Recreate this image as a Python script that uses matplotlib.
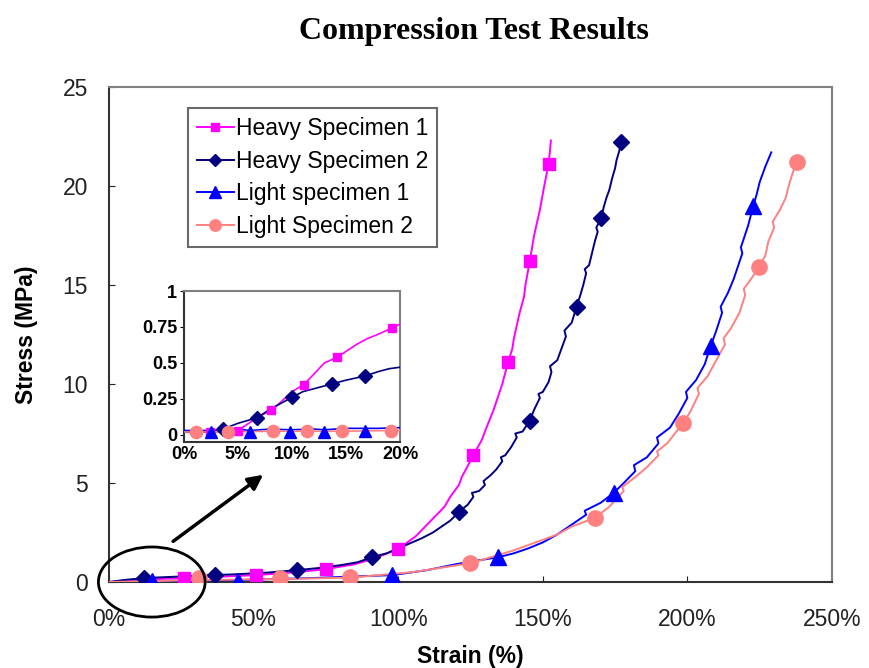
import matplotlib
matplotlib.use("Agg")
import matplotlib.pyplot as plt
from matplotlib.patches import Ellipse

# Compression test results - stress vs strain

plt.rcParams['font.family'] = ['Liberation Sans', 'DejaVu Sans']

names = ["Heavy Specimen 1", "Heavy Specimen 2", "Light specimen 1", "Light Specimen 2"]
colors = ["#FF00FF", "#000080", "#0000FF", "#FF8080"]
markers = ["s", "D", "^", "o"]
msizes = [8, 8.5, 11, 11]

# main curves (strain %, stress MPa)
h1_x = [0, 10, 20, 26, 40, 51, 65, 75, 85, 92, 100, 106, 112, 116, 118, 121, 122, 126, 129,
        130, 133, 136, 138, 139.5, 140, 142, 143.5, 144, 145.5, 147, 149, 150.5, 152, 152.5, 152.8]
h1_y = [0, 0.1, 0.17, 0.2, 0.28, 0.35, 0.5, 0.65, 0.9, 1.2, 1.67, 2.3, 3.2, 3.8, 4.3, 4.9, 5.3, 6.4, 7.2,
        7.6, 8.7, 10.0, 11.1, 11.8, 12.3, 13.6, 14.4, 15.0, 16.2, 17.5, 18.8, 20.0, 21.1, 21.8, 22.3]
h1_mx = [26, 51, 75, 100, 126, 138, 145.5, 152]
h1_my = [0.2, 0.35, 0.65, 1.67, 6.4, 11.1, 16.2, 21.1]

h2_x = [0, 5, 12, 20, 28, 36.5, 45, 55, 65, 72, 80, 86, 91, 96, 100, 104, 108, 112, 115, 118, 121,
        124, 126, 125.5, 128, 130, 129.5, 132, 134, 136, 135.5, 137, 139, 141, 140.5, 143, 145.5,
        147, 149, 148.5, 150, 152, 153, 152.5, 155, 157, 158, 157.5, 160, 161.7, 163, 164, 165,
        164.5, 166, 167, 168, 169, 168.5, 170.3, 171, 172, 173, 174, 175, 175.5, 176.5, 177]
h2_y = [0, 0.1, 0.2, 0.25, 0.3, 0.35, 0.4, 0.48, 0.6, 0.7, 0.85, 1.0, 1.26, 1.45, 1.7, 1.95, 2.2, 2.5,
        2.8, 3.1, 3.54, 3.9, 4.3, 4.5, 4.6, 4.9, 5.1, 5.4, 5.7, 6.1, 6.3, 6.4, 6.8, 7.3, 7.5, 7.6,
        8.15, 8.7, 9.3, 9.5, 9.6, 10.1, 10.6, 10.9, 11.2, 12.0, 12.4, 12.7, 13.1, 13.9, 14.5, 15.0,
        15.6, 15.8, 16.0, 16.6, 17.2, 17.7, 17.9, 18.4, 18.9, 19.4, 19.8, 20.4, 20.9, 21.3, 21.8, 22.2]
h2_mx = [12, 36.5, 65, 91, 121, 145.5, 161.7, 170.3, 177]
h2_my = [0.2, 0.35, 0.6, 1.26, 3.54, 8.15, 13.9, 18.4, 22.2]

l1_x = [0, 15, 30, 44.5, 70, 98, 110, 120, 128, 134.5, 140, 145, 150, 155, 160, 165, 164.5, 170,
        174.5, 178, 182, 181.5, 186, 190, 189.5, 194, 197, 200, 199.5, 203, 206, 208, 210, 212,
        211.5, 214, 216, 219, 218.5, 221, 222.8, 224, 225, 227, 229]
l1_y = [0, 0.05, 0.08, 0.1, 0.2, 0.35, 0.6, 0.9, 1.1, 1.25, 1.45, 1.7, 2.0, 2.4, 2.9, 3.4, 3.6, 4.0,
        4.5, 5.0, 5.6, 5.9, 6.3, 7.0, 7.3, 7.8, 8.5, 9.3, 9.6, 10.2, 11.0, 11.9, 12.7, 13.6, 13.9,
        14.6, 15.3, 16.6, 16.9, 18.0, 19.0, 19.6, 20.2, 21.0, 21.7]
l1_mx = [15, 44.5, 98, 134.5, 174.5, 208, 222.8]
l1_my = [0.05, 0.05, 0.35, 1.25, 4.5, 11.9, 19.0]

l2_x = [0, 31, 59, 83.5, 105, 125, 140, 155, 160, 168, 173, 178, 177.5, 182, 186, 190, 189.5, 193,
        198.6, 201, 204, 203.5, 207, 210, 213, 212.5, 215, 218, 220, 219.5, 222, 224.8, 227, 228,
        230, 229.5, 232, 234, 235, 236.5, 237.9]
l2_y = [0, 0.1, 0.15, 0.22, 0.5, 0.95, 1.6, 2.4, 2.8, 3.24, 3.8, 4.6, 4.8, 5.3, 5.8, 6.4, 6.6, 7.0,
        8.05, 8.6, 9.5, 9.8, 10.4, 11.2, 12.0, 12.3, 12.8, 13.6, 14.5, 14.8, 15.3, 15.9, 16.5, 17.2,
        17.9, 18.2, 18.8, 19.4, 20.0, 20.7, 21.2]
l2_mx = [31, 59, 83.5, 125, 168, 198.6, 224.8, 237.9]
l2_my = [0.2, 0.2, 0.25, 0.95, 3.24, 8.05, 15.9, 21.2]

# inset (first 20 % strain)
ih1_x = [0, 2, 4, 5, 6, 7, 8.1, 9, 10, 11.1, 12, 13, 14.2, 15, 16, 17, 18, 19.3, 20]
ih1_y = [0.02, 0.02, 0.02, 0.03, 0.08, 0.13, 0.17, 0.23, 0.3, 0.35, 0.42, 0.5, 0.54, 0.58, 0.63,
         0.67, 0.7, 0.745, 0.77]
ih1_mx = [2.4, 5, 8.1, 11.1, 14.2, 19.3]
ih1_my = [0.02, 0.03, 0.17, 0.35, 0.54, 0.745]

ih2_x = [0, 2, 3.6, 5, 6.8, 8, 10, 11, 12, 13.7, 15, 16.8, 18, 19, 20]
ih2_y = [0.02, 0.02, 0.04, 0.08, 0.12, 0.18, 0.26, 0.3, 0.32, 0.354, 0.38, 0.41, 0.44, 0.46, 0.47]
ih2_mx = [3.6, 6.8, 10, 13.7, 16.8]
ih2_my = [0.04, 0.12, 0.26, 0.354, 0.41]

il1_x = [0, 2.5, 5, 6.1, 8, 9.8, 12, 13, 15, 16.8, 18, 20]
il1_y = [0.03, 0.03, 0.04, 0.03, 0.04, 0.035, 0.04, 0.035, 0.045, 0.045, 0.045, 0.05]
il1_mx = [2.5, 6.1, 9.8, 13, 16.8]
il1_my = [0.02, 0.02, 0.02, 0.02, 0.03]

il2_x = [0, 1.1, 4.1, 8.2, 11.4, 14.6, 19.2, 20]
il2_y = [0.02, 0.02, 0.02, 0.025, 0.025, 0.025, 0.03, 0.03]
il2_mx = [1.1, 4.1, 8.2, 11.4, 14.6, 19.2]
il2_my = [0.02, 0.02, 0.025, 0.025, 0.025, 0.03]

main_lines = [(h1_x, h1_y, h1_mx, h1_my), (h2_x, h2_y, h2_mx, h2_my),
              (l1_x, l1_y, l1_mx, l1_my), (l2_x, l2_y, l2_mx, l2_my)]
inset_lines = [(ih1_x, ih1_y, ih1_mx, ih1_my), (ih2_x, ih2_y, ih2_mx, ih2_my),
               (il1_x, il1_y, il1_mx, il1_my), (il2_x, il2_y, il2_mx, il2_my)]

fig = plt.figure(figsize=(8.69, 6.68), dpi=100)
ax = fig.add_axes([0.1254, 0.1287, 0.832, 0.741])

for i, (x, y, mx, my) in enumerate(main_lines):
    ax.plot(x, y, color=colors[i], lw=1.4, zorder=3)
    ax.plot(mx, my, ls="none", marker=markers[i], ms=msizes[i], color=colors[i], zorder=4)
    # handle for the legend
    ax.plot([], [], color=colors[i], lw=1.4, marker=markers[i], ms=msizes[i] * 0.75, label=names[i])

ax.set_xlim(0, 250)
ax.set_ylim(0, 25)
ax.set_xticks([0, 50, 100, 150, 200, 250])
ax.set_xticklabels(["0%", "50%", "100%", "150%", "200%", "250%"])
ax.set_yticks([0, 5, 10, 15, 20, 25])
ax.tick_params(axis="x", direction="in", length=4, pad=19, labelsize=16.5, colors="#222222")
ax.tick_params(axis="y", direction="in", length=4, pad=15, labelsize=16.5, colors="#222222")
ax.set_xlabel("Strain (%)", fontsize=16.5, fontweight="bold", labelpad=10)
ax.set_ylabel("Stress (MPa)", fontsize=16.5, fontweight="bold", labelpad=18)
for s in ["left", "bottom"]:
    ax.spines[s].set_color("#333333")
    ax.spines[s].set_linewidth(1.5)
for s in ["top", "right"]:
    ax.spines[s].set_color("#808080")
    ax.spines[s].set_linewidth(1.5)

leg = ax.legend(loc="upper left", bbox_to_anchor=(0.109, 0.958), borderaxespad=0,
                fontsize=16.5, handlelength=1.6, handletextpad=0.1, labelspacing=0.42,
                borderpad=0.4, fancybox=False, frameon=True)
leg.get_frame().set_edgecolor("#444444")
leg.get_frame().set_linewidth(1.5)

# circle around the start region and arrow to the inset
ax.add_patch(Ellipse((14.8, 0.0), 36.9, 3.54, fill=False, edgecolor="black", lw=2,
                     clip_on=False, zorder=5))
ax.annotate("", xy=(54.1, 5.5), xytext=(21.4, 1.97), annotation_clip=False,
            arrowprops=dict(arrowstyle="-|>", lw=2.5, color="black", mutation_scale=22))

fig.suptitle("Compression Test Results", x=0.545, y=0.975, fontsize=23, fontweight="bold",
             family="Liberation Serif")

# inset
ins = fig.add_axes([0.2117, 0.3383, 0.2486, 0.2260])
for i, (x, y, mx, my) in enumerate(inset_lines):
    ins.plot(x, y, color=colors[i], lw=1.2, zorder=3)
    ins.plot(mx, my, ls="none", marker=markers[i], ms=msizes[i] * 0.8, color=colors[i], zorder=4)
ins.set_xlim(0, 20)
ins.set_ylim(-0.05, 1)
ins.set_xticks([0, 5, 10, 15, 20])
ins.set_xticklabels(["0%", "5%", "10%", "15%", "20%"])
ins.set_yticks([0, 0.25, 0.5, 0.75, 1])
ins.set_yticklabels(["0", "0.25", "0.5", "0.75", "1"])
ins.tick_params(axis="x", length=0, pad=3, labelsize=13)
ins.tick_params(axis="y", direction="out", length=3, pad=2, labelsize=13)
for lab in ins.get_xticklabels() + ins.get_yticklabels():
    lab.set_fontweight("bold")
for s in ["left", "bottom"]:
    ins.spines[s].set_color("#333333")
    ins.spines[s].set_linewidth(1.5)
for s in ["top", "right"]:
    ins.spines[s].set_color("#808080")
    ins.spines[s].set_linewidth(1.5)

fig.savefig("out.png", dpi=100)
